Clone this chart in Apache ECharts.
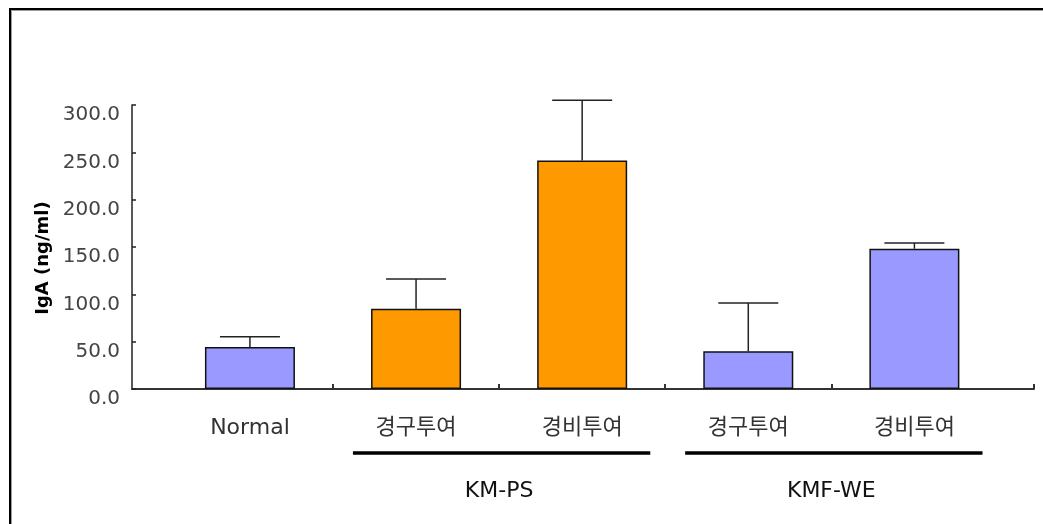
<!DOCTYPE html>
<html>
<head>
<meta charset="utf-8">
<script src="https://cdn.jsdelivr.net/npm/echarts@6/dist/echarts.min.js"></script>
<style>
  html, body { margin: 0; padding: 0; background: #fff; }
  #wrap { position: relative; width: 1043px; height: 524px; overflow: hidden; }
  #chart { position: absolute; left: 0; top: 0; width: 1043px; height: 524px; }
  #frame {
    position: absolute; left: 9px; top: 8px; width: 1040px; height: 520px;
    border-top: 2px solid #000; border-left: 2px solid #000;
    box-shadow: inset 1px 1px 0 #9a9a9a; pointer-events: none;
  }
</style>
</head>
<body>
<div id="wrap">
  <div id="chart"></div>
  <div id="frame"></div>
</div>
<script>
// Treatment categories along the x axis
const categories = ['Normal', '경구투여', '경비투여', '경구투여', '경비투여'];
// Mean IgA level per category (ng/ml)
const means = [44.4, 84.8, 241.5, 39.8, 148.2];
// Upper error (SD) per category
const errors = [10.9, 31.4, 63.5, 51.0, 6.0];
// Which bars are treated groups (orange) vs others (blue)
const barKinds = ['blue', 'orange', 'orange', 'blue', 'blue'];
// Group brackets under the category labels
const groupNames = ['KM-PS', 'KMF-WE'];
const groupFirst = [1, 3];
const groupLast = [2, 4];
// Y axis tick settings
const yMin = 0, yMax = 300, yStep = 50;

const palette = { blue: '#9999ff', orange: '#ff9900' };
const latinFont = '"DejaVu Sans", "Noto Sans CJK KR", sans-serif';

const barData = means.map((v, i) => ({
  value: [i, v],
  itemStyle: { color: palette[barKinds[i]] }
}));
const errData = means.map((v, i) => [i, v, v + errors[i]]);
const groupData = groupNames.map((n, k) => [groupFirst[k], groupLast[k], k]);

const chart = echarts.init(document.getElementById('chart'), null, { renderer: 'canvas' });

chart.setOption({
  animation: false,
  backgroundColor: '#fff',
  grid: { left: 132, right: 9, top: 105, bottom: 135, containLabel: false, outerBoundsMode: 'none' },
  xAxis: {
    type: 'value',
    min: -0.71,
    max: 4.72,
    splitLine: { show: false },
    axisLine: { show: true, onZero: false, lineStyle: { color: '#333', width: 2 } },
    axisTick: {
      show: true, inside: true, length: 5,
      customValues: [0.5, 1.5, 2.5, 3.5, 4.72],
      lineStyle: { color: '#333', width: 2 }
    },
    axisLabel: {
      show: true,
      customValues: [0, 1, 2, 3, 4],
      formatter: v => categories[Math.round(v)],
      margin: 28,
      fontSize: 22,
      fontFamily: latinFont,
      color: '#333'
    }
  },
  yAxis: {
    type: 'value',
    min: yMin,
    max: yMax,
    interval: yStep,
    name: 'IgA (ng/ml)',
    nameLocation: 'middle',
    nameGap: 80,
    nameTextStyle: {
      fontSize: 18, fontWeight: 'bold', color: '#000',
      fontFamily: latinFont, padding: [0, 22, 0, 0]
    },
    splitLine: { show: false },
    axisLine: { show: true, onZero: false, lineStyle: { color: '#222', width: 1.5 } },
    axisTick: { show: true, inside: true, length: 4, lineStyle: { color: '#222', width: 1.5 } },
    axisLabel: {
      formatter: v => v.toFixed(1),
      margin: 12,
      fontSize: 20,
      fontFamily: latinFont,
      color: '#444',
      verticalAlign: 'top',
      lineHeight: 20
    }
  },
  series: [
    {
      type: 'bar',
      data: barData,
      barWidth: 90,
      itemStyle: { borderColor: '#111', borderWidth: 1.5 },
      z: 2
    },
    {
      // upper error bars with caps
      type: 'custom',
      data: errData,
      z: 3,
      renderItem: (params, api) => {
        const top = api.coord([api.value(0), api.value(2)]);
        const base = api.coord([api.value(0), api.value(1)]);
        const capHalf = 30;
        return {
          type: 'group',
          children: [
            { type: 'line', shape: { x1: base[0], y1: base[1], x2: top[0], y2: top[1] },
              style: { stroke: '#222', lineWidth: 1.5 } },
            { type: 'line', shape: { x1: top[0] - capHalf, y1: top[1], x2: top[0] + capHalf, y2: top[1] },
              style: { stroke: '#222', lineWidth: 1.5 } }
          ]
        };
      }
    },
    {
      // group brackets and names below the category labels
      type: 'custom',
      data: groupData,
      clip: false,
      silent: true,
      renderItem: (params, api) => {
        const a = api.coord([api.value(0) - 0.38, 0]);
        const b = api.coord([api.value(1) + 0.41, 0]);
        const mid = api.coord([(api.value(0) + api.value(1)) / 2, 0]);
        const name = groupNames[api.value(2)];
        return {
          type: 'group',
          children: [
            { type: 'line', shape: { x1: a[0], y1: a[1] + 64, x2: b[0], y2: b[1] + 64 },
              style: { stroke: '#000', lineWidth: 3.5 } },
            { type: 'text', x: mid[0], y: mid[1] + 102,
              style: { text: name, fill: '#111', fontSize: 22, fontFamily: latinFont,
                       align: 'center', verticalAlign: 'middle' } }
          ]
        };
      }
    }
  ]
});
</script>
</body>
</html>
